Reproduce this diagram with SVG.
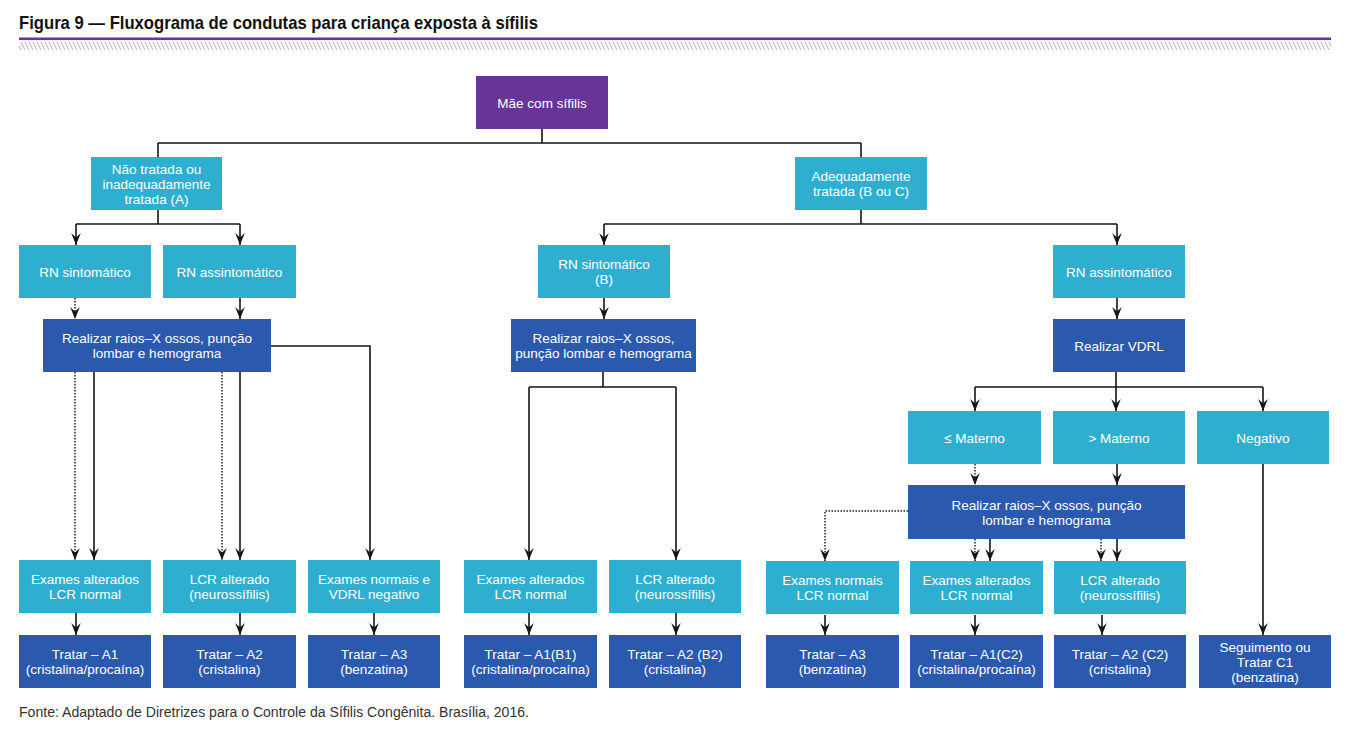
<svg xmlns="http://www.w3.org/2000/svg" width="1361" height="739" viewBox="0 0 1361 739">
<style>
.lb{fill:#2fafd0}
.db{fill:#2a59ad}
.pu{fill:#673598}
.t{font-family:"Liberation Sans",Arial,sans-serif;font-size:13.5px;fill:#fff;text-anchor:middle}
.c{fill:none;stroke:#151515;stroke-width:1.6}
.d{fill:none;stroke:#222;stroke-width:1.5;stroke-dasharray:1.5 1.5}
.a{marker-end:url(#arr)}
</style>
<defs>
<marker id="arr" markerUnits="userSpaceOnUse" markerWidth="14" markerHeight="14" refX="0" refY="0" orient="auto" overflow="visible">
<path d="M0,0 L-12,-4.8 L-7.5,0 L-12,4.8 Z" fill="#151515"/>
</marker>
<pattern id="hatch" patternUnits="userSpaceOnUse" width="4" height="8">
<path d="M-4,0 L0,8 M0,0 L4,8 M4,0 L8,8" stroke="#c4c4c4" stroke-width="1.3"/>
</pattern>
</defs>

<g id="header">
<text x="19" y="29" font-family="'Liberation Sans',Arial,sans-serif" font-size="18.5" font-weight="bold" fill="#111" textLength="519" lengthAdjust="spacingAndGlyphs">Figura 9 — Fluxograma de condutas para criança exposta à sífilis</text>
<rect x="19" y="37.5" width="1312" height="2.6" fill="#673598"/>
<rect x="19" y="42" width="1312" height="8" fill="url(#hatch)"/>
</g>

<g id="connectors">
<path class="c" d="M542,129 V143 M158,143 H861 M158,143 V157 M861,143 V157"/>
<path class="c" d="M158,210 V224 M76,224 H240"/>
<path class="c a" d="M76,224 V245"/>
<path class="c a" d="M240,224 V245"/>
<path class="d a" d="M75,298 V319"/>
<path class="c a" d="M240,298 V319"/>
<path class="d a" d="M75,372 V560"/>
<path class="c a" d="M94,372 V560"/>
<path class="d a" d="M222,372 V560"/>
<path class="c a" d="M240,372 V560"/>
<path class="c a" d="M271,346 H370 V560"/>
<path class="c a" d="M76,613 V635"/>
<path class="c a" d="M240,613 V635"/>
<path class="c a" d="M374,613 V635"/>

<path class="c" d="M861,210 V224 M604,224 H1117"/>
<path class="c a" d="M604,224 V245"/>
<path class="c a" d="M1117,224 V245"/>
<path class="c a" d="M604,298 V319"/>
<path class="c" d="M603,372 V387 M529,387 H676"/>
<path class="c a" d="M529,387 V560"/>
<path class="c a" d="M676,387 V560"/>
<path class="c a" d="M529,613 V635"/>
<path class="c a" d="M676,613 V635"/>

<path class="c a" d="M1117,298 V319"/>
<path class="c" d="M1116,372 V387 M975,387 H1263"/>
<path class="c a" d="M975,387 V411"/>
<path class="c a" d="M1116,387 V411"/>
<path class="c a" d="M1263,387 V411"/>
<path class="d a" d="M975,464 V485"/>
<path class="c a" d="M1117,464 V485"/>
<path class="d a" d="M908,511 H825 V561"/>
<path class="d a" d="M975,539 V561"/>
<path class="c a" d="M990,539 V561"/>
<path class="d a" d="M1101,539 V561"/>
<path class="c a" d="M1117,539 V561"/>
<path class="c a" d="M825,615 V635"/>
<path class="c a" d="M975,615 V635"/>
<path class="c a" d="M1102,615 V635"/>
<path class="c a" d="M1263,464 V635"/>
</g>

<g id="mae"><rect class="pu" x="476" y="76" width="132" height="53"/><text class="t" x="542" y="107.5">Mãe com sífilis</text></g>
<g id="nao-tratada"><rect class="lb" x="91" y="157" width="131" height="53"/><text class="t" x="156.5" y="173.5">Não tratada ou</text><text class="t" x="156.5" y="188.5">inadequadamente</text><text class="t" x="156.5" y="203.5">tratada (A)</text></g>
<g id="adequada"><rect class="lb" x="795" y="157" width="132" height="53"/><text class="t" x="861" y="181">Adequadamente</text><text class="t" x="861" y="196">tratada (B ou C)</text></g>

<g id="rn-sint-a"><rect class="lb" x="19" y="245" width="132" height="53"/><text class="t" x="85" y="276.5">RN sintomático</text></g>
<g id="rn-assint-a"><rect class="lb" x="163" y="245" width="133" height="53"/><text class="t" x="229.5" y="276.5">RN assintomático</text></g>
<g id="realizar-a"><rect class="db" x="43" y="319" width="228" height="53"/><text class="t" x="157" y="343">Realizar raios–X ossos, punção</text><text class="t" x="157" y="358">lombar e hemograma</text></g>

<g id="ex-alt-a"><rect class="lb" x="19" y="560" width="132" height="53"/><text class="t" x="85" y="584">Exames alterados</text><text class="t" x="85" y="599">LCR normal</text></g>
<g id="lcr-alt-a"><rect class="lb" x="163" y="560" width="133" height="53"/><text class="t" x="229.5" y="584">LCR alterado</text><text class="t" x="229.5" y="599">(neurossífilis)</text></g>
<g id="ex-norm-a"><rect class="lb" x="308" y="560" width="132" height="53"/><text class="t" x="374" y="584">Exames normais e</text><text class="t" x="374" y="599">VDRL negativo</text></g>
<g id="tratar-a1"><rect class="db" x="19" y="635" width="132" height="53"/><text class="t" x="85" y="659">Tratar – A1</text><text class="t" x="85" y="674">(cristalina/procaína)</text></g>
<g id="tratar-a2"><rect class="db" x="163" y="635" width="133" height="53"/><text class="t" x="229.5" y="659">Tratar – A2</text><text class="t" x="229.5" y="674">(cristalina)</text></g>
<g id="tratar-a3"><rect class="db" x="308" y="635" width="132" height="53"/><text class="t" x="374" y="659">Tratar – A3</text><text class="t" x="374" y="674">(benzatina)</text></g>

<g id="rn-sint-b"><rect class="lb" x="538" y="245" width="132" height="53"/><text class="t" x="604" y="269">RN sintomático</text><text class="t" x="604" y="284">(B)</text></g>
<g id="realizar-b"><rect class="db" x="511" y="319" width="185" height="53"/><text class="t" x="603.5" y="343">Realizar raios–X ossos,</text><text class="t" x="603.5" y="358">punção lombar e hemograma</text></g>
<g id="ex-alt-b"><rect class="lb" x="464" y="560" width="133" height="53"/><text class="t" x="530.5" y="584">Exames alterados</text><text class="t" x="530.5" y="599">LCR normal</text></g>
<g id="lcr-alt-b"><rect class="lb" x="609" y="560" width="132" height="53"/><text class="t" x="675" y="584">LCR alterado</text><text class="t" x="675" y="599">(neurossífilis)</text></g>
<g id="tratar-b1"><rect class="db" x="464" y="635" width="133" height="53"/><text class="t" x="530.5" y="659">Tratar – A1(B1)</text><text class="t" x="530.5" y="674">(cristalina/procaína)</text></g>
<g id="tratar-b2"><rect class="db" x="609" y="635" width="132" height="53"/><text class="t" x="675" y="659">Tratar – A2 (B2)</text><text class="t" x="675" y="674">(cristalina)</text></g>

<g id="rn-assint-c"><rect class="lb" x="1053" y="245" width="132" height="53"/><text class="t" x="1119" y="276.5">RN assintomático</text></g>
<g id="realizar-vdrl"><rect class="db" x="1053" y="319" width="132" height="53"/><text class="t" x="1119" y="350.5">Realizar VDRL</text></g>
<g id="le-materno"><rect class="lb" x="908" y="411" width="133" height="53"/><text class="t" x="974.5" y="442.5">≤ Materno</text></g>
<g id="gt-materno"><rect class="lb" x="1053" y="411" width="132" height="53"/><text class="t" x="1119" y="442.5">&gt; Materno</text></g>
<g id="negativo"><rect class="lb" x="1197" y="411" width="132" height="53"/><text class="t" x="1263" y="442.5">Negativo</text></g>
<g id="realizar-c"><rect class="db" x="908" y="485" width="277" height="54"/><text class="t" x="1046.5" y="509.5">Realizar raios–X ossos, punção</text><text class="t" x="1046.5" y="524.5">lombar e hemograma</text></g>
<g id="ex-norm-c"><rect class="lb" x="766" y="561" width="133" height="53"/><text class="t" x="832.5" y="585">Exames normais</text><text class="t" x="832.5" y="600">LCR normal</text></g>
<g id="ex-alt-c"><rect class="lb" x="910" y="561" width="133" height="53"/><text class="t" x="976.5" y="585">Exames alterados</text><text class="t" x="976.5" y="600">LCR normal</text></g>
<g id="lcr-alt-c"><rect class="lb" x="1054" y="561" width="132" height="53"/><text class="t" x="1120" y="585">LCR alterado</text><text class="t" x="1120" y="600">(neurossífilis)</text></g>
<g id="tratar-c-a3"><rect class="db" x="766" y="635" width="133" height="53"/><text class="t" x="832.5" y="659">Tratar – A3</text><text class="t" x="832.5" y="674">(benzatina)</text></g>
<g id="tratar-c2-a1"><rect class="db" x="910" y="635" width="133" height="53"/><text class="t" x="976.5" y="659">Tratar – A1(C2)</text><text class="t" x="976.5" y="674">(cristalina/procaína)</text></g>
<g id="tratar-c2-a2"><rect class="db" x="1054" y="635" width="132" height="53"/><text class="t" x="1120" y="659">Tratar – A2 (C2)</text><text class="t" x="1120" y="674">(cristalina)</text></g>
<g id="seguimento"><rect class="db" x="1199" y="635" width="132" height="53"/><text class="t" x="1265" y="651.5">Seguimento ou</text><text class="t" x="1265" y="666.5">Tratar C1</text><text class="t" x="1265" y="681.5">(benzatina)</text></g>

<g id="footer"><text x="19" y="717" font-family="'Liberation Sans',Arial,sans-serif" font-size="14" fill="#333" textLength="510" lengthAdjust="spacingAndGlyphs">Fonte: Adaptado de Diretrizes para o Controle da Sífilis Congênita. Brasília, 2016.</text></g>
</svg>
